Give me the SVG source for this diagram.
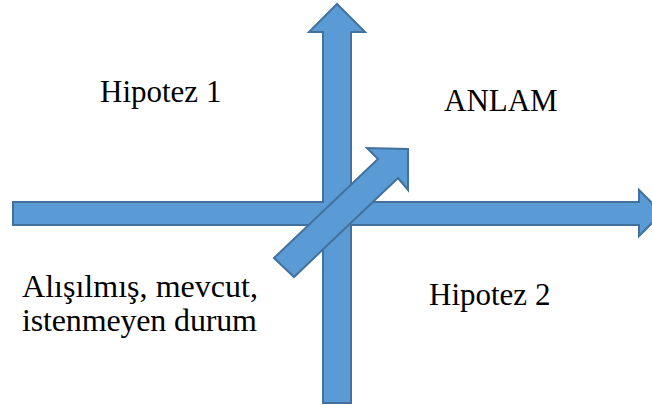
<svg xmlns="http://www.w3.org/2000/svg" width="652" height="405" viewBox="0 0 652 405">
  <style>
    .arrow { fill: #5b9bd5; stroke: #41719c; stroke-width: 2; stroke-linejoin: miter; }
    .label { font-family: 'Liberation Serif', 'Tinos', 'DejaVu Serif', serif; font-size: 31px; fill: #000000; }
    .label-lg { font-size: 32px; }
  </style>
  <rect width="652" height="405" fill="#ffffff"/>

  <g id="connectors">
    <!-- horizontal and vertical axes, merged into one cross outline -->
    <path id="axes" class="arrow" d="M13,202 L323,202 L323,32 L309,32 L337,4 L365,32 L351,32 L351,202 L639,202 L639,190 L662,213 L639,236 L639,225 L351,225 L351,403 L323,403 L323,225 L13,225 Z"/>
    <!-- diagonal arrow towards the upper right -->
    <path id="diagonal" class="arrow" d="M274,258 L378,159 L367,148 L408,149 L408,190 L398,178 L294,277 Z"/>
  </g>

  <g id="hipotez1">
    <text class="label" x="100" y="102">Hipotez 1</text>
  </g>
  <g id="anlam">
    <text class="label" x="444" y="111">ANLAM</text>
  </g>
  <g id="mevcut-durum">
    <text class="label label-lg" x="22" y="297" textLength="236" lengthAdjust="spacing">Alışılmış, mevcut,</text>
    <text class="label label-lg" x="22" y="331" textLength="235" lengthAdjust="spacing">istenmeyen durum</text>
  </g>
  <g id="hipotez2">
    <text class="label" x="429" y="305">Hipotez 2</text>
  </g>
</svg>
